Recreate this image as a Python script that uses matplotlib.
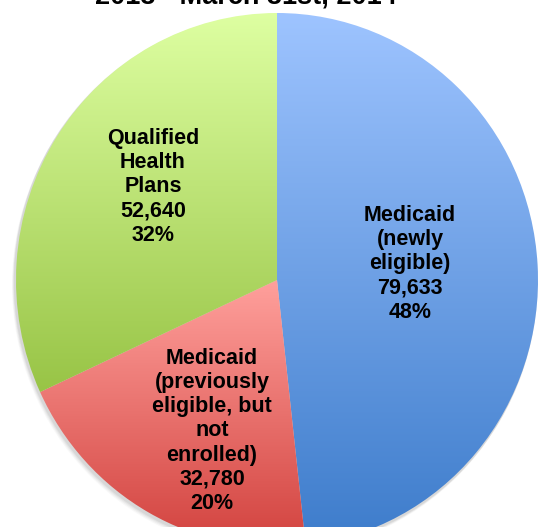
import numpy as np
import matplotlib
matplotlib.use("Agg")
import matplotlib.pyplot as plt
from matplotlib.colors import LinearSegmentedColormap
from matplotlib.patches import Ellipse

# ---- data ----
categories = ["Medicaid\n(newly\neligible)", "Medicaid\n(previously\neligible, but\nnot\nenrolled)", "Qualified\nHealth\nPlans"]
values = [79633, 32780, 52640]
percents = ["48%", "20%", "32%"]
title_text = "2013 - March 31st, 2014"

top_colors = ["#9EC4FF", "#FFA09C", "#DEFFA2"]
bottom_colors = ["#3D7CCB", "#D2423E", "#98C446"]

W, H = 540, 527
S = 1.023  # vertical pixels per data unit (pie slightly taller than wide)
fig = plt.figure(figsize=(W / 100, H / 100), dpi=100)
ax = fig.add_axes([0, 0, 1, 1])


def py(ypix):
    return (H - ypix) / S


cx, cy, R = 277, py(280), 261

# soft shadow
for off, a in [(5, 0.05), (4, 0.07), (3, 0.09), (2, 0.12)]:
    ax.add_patch(Ellipse((cx - off * 0.6, cy - off), 2 * R + 2, 2 * R + 2,
                         facecolor="#808080", edgecolor="none", alpha=a, zorder=1))

wedges, _ = ax.pie(values, startangle=90, counterclock=False, center=(cx, cy),
                   radius=R, frame=True,
                   wedgeprops=dict(linewidth=0, facecolor="none", edgecolor="none"))
ax.set_aspect("auto")
ax.set_xlim(0, W)
ax.set_ylim(0, H / S)
ax.axis("off")

for w, tc, bc in zip(wedges, top_colors, bottom_colors):
    w.set_zorder(2)
    bb = w.get_path().get_extents(w.get_transform() - ax.transData)
    cmap = LinearSegmentedColormap.from_list("g", [bc, tc])
    grad = np.linspace(0, 1, 256).reshape(-1, 1)
    im = ax.imshow(grad, cmap=cmap, origin="lower", aspect="auto",
                   extent=[bb.x0, bb.x1, bb.y0, bb.y1], zorder=3,
                   interpolation="bilinear")
    im.set_clip_path(w)

ax.set_aspect("auto")
ax.set_xlim(0, W)
ax.set_ylim(0, H / S)

font = dict(family=["Liberation Sans", "DejaVu Sans"], fontweight="bold",
            fontsize=15.5, color="black", ha="center", va="center",
            linespacing=1.2, zorder=5)

label_pos = [(410, py(264)), (212, py(431)), (153, py(187))]
for cat, v, p, (x, y) in zip(categories, values, percents, label_pos):
    ax.text(x, y, f"{cat}\n{v:,}\n{p}", **font)

ax.text(246, py(4), title_text, family=["Liberation Sans", "DejaVu Sans"],
        fontweight="bold", fontsize=19.5, ha="center", va="baseline", zorder=5)

fig.savefig("out.png", dpi=100)
